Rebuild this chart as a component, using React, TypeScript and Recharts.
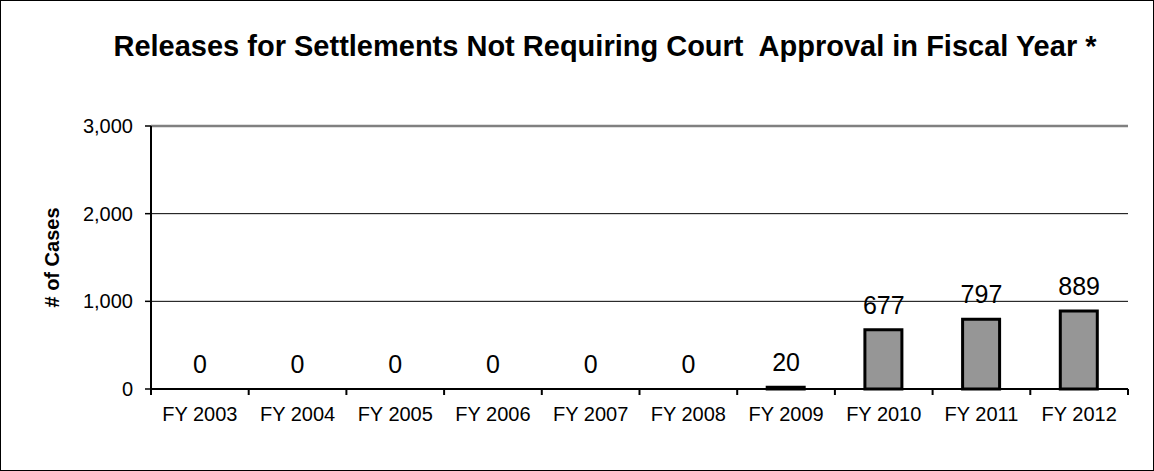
import {
  ComposedChart,
  Bar,
  Line,
  XAxis,
  YAxis,
  CartesianGrid,
  ReferenceLine,
  LabelList,
  Customized,
} from 'recharts';

document.body.style.margin = '0';

/* ------------------------------------------------------------------ */
/*  data                                                               */
/* ------------------------------------------------------------------ */
const fiscalYears = [
  'FY 2003',
  'FY 2004',
  'FY 2005',
  'FY 2006',
  'FY 2007',
  'FY 2008',
  'FY 2009',
  'FY 2010',
  'FY 2011',
  'FY 2012',
];
const releases = [0, 0, 0, 0, 0, 0, 20, 677, 797, 889];
const yTicks = [0, 1000, 2000, 3000];

const TITLE = 'Releases for Settlements Not Requiring Court  Approval in Fiscal Year *';

const data = fiscalYears.map((fy, i) => ({ fy, cases: releases[i] }));

/* ------------------------------------------------------------------ */
/*  layout                                                             */
/* ------------------------------------------------------------------ */
const W = 1154;
const H = 471;
const Y_AXIS_W = 151;
const MARGIN = { top: 126, right: 26, bottom: 52, left: 0 };
const X_AXIS_H = 30;
const PLOT_BOTTOM = H - MARGIN.bottom - X_AXIS_H;
const BAND = (W - Y_AXIS_W - MARGIN.right) / fiscalYears.length;
const TICK_SIZE = 6;
const TICK_GAP = 12;
const FONT = '"Liberation Sans", Arial, sans-serif';

// Excel-style ticks sit on the category boundaries, labels in the middle
function FyTick(props: any) {
  const { x, y, payload, index } = props;
  const half = BAND / 2;
  const last = index === fiscalYears.length - 1;
  return (
    <g>
      <line x1={x - half} x2={x - half} y1={PLOT_BOTTOM} y2={PLOT_BOTTOM + TICK_SIZE} stroke="#000" strokeWidth={2} />
      {last && (
        <line x1={x + half} x2={x + half} y1={PLOT_BOTTOM} y2={PLOT_BOTTOM + TICK_SIZE} stroke="#000" strokeWidth={2} />
      )}
      <text x={x} y={y} dy="0.71em" textAnchor="middle" fontSize={20} fontFamily={FONT} fill="#000">
        {payload.value}
      </text>
    </g>
  );
}

function YLabel(props: any) {
  const vb = props.viewBox || {};
  const cy = (vb.y ?? MARGIN.top) + (vb.height ?? 263) / 2;
  const cx = 52;
  return (
    <text
      x={cx}
      y={cy}
      transform={`rotate(-90 ${cx} ${cy})`}
      textAnchor="middle"
      dominantBaseline="central"
      fontSize={20}
      fontWeight="bold"
      fontFamily={FONT}
      fill="#000"
    >
      # of Cases
    </text>
  );
}

function Title() {
  return (
    <text
      x={605}
      y={56}
      textAnchor="middle"
      fontSize={29}
      fontWeight="bold"
      fontFamily={FONT}
      fill="#000"
      style={{ whiteSpace: 'pre' }}
    >
      {TITLE}
    </text>
  );
}

export default function App() {
  return (
    <div style={{ position: 'relative', width: W, height: H, background: '#fff' }}>
      <ComposedChart width={W} height={H} data={data} margin={MARGIN}>
        <CartesianGrid vertical={false} stroke="#000" strokeWidth={1} />
        <ReferenceLine y={3000} stroke="#808080" strokeWidth={2.5} />
        <XAxis
          dataKey="fy"
          height={X_AXIS_H}
          axisLine={{ stroke: '#000', strokeWidth: 2 }}
          tickLine={false}
          tickSize={TICK_SIZE}
          tickMargin={TICK_GAP}
          interval={0}
          tick={<FyTick />}
        />
        <YAxis
          width={Y_AXIS_W}
          domain={[0, 3000]}
          ticks={yTicks}
          interval={0}
          tickFormatter={(v: number) => v.toLocaleString('en-US')}
          axisLine={{ stroke: '#000', strokeWidth: 2 }}
          tickLine={{ stroke: '#000', strokeWidth: 1.5 }}
          tickSize={TICK_SIZE}
          tickMargin={12}
          tick={{ fontSize: 20, fill: '#000', fontFamily: FONT }}
          label={{ content: <YLabel /> }}
        />
        <YAxis
          yAxisId="edge"
          orientation="right"
          width={0}
          domain={[0, 3000]}
          tick={false}
          tickLine={false}
          axisLine={{ stroke: '#808080', strokeWidth: 2.5 }}
        />
        <Bar
          dataKey="cases"
          fill="#969696"
          stroke="#000"
          strokeWidth={3}
          barSize={37}
          isAnimationActive={false}
        />
        {/* invisible series carrying the value labels, so zeros get a label too */}
        <Line
          dataKey="cases"
          stroke="none"
          dot={false}
          activeDot={false}
          isAnimationActive={false}
        >
          <LabelList dataKey="cases" position="top" offset={16} fontSize={25} fill="#000" fontFamily={FONT} />
        </Line>
        <Customized component={Title} />
      </ComposedChart>
      <div
        style={{
          position: 'absolute',
          left: 0,
          top: 0,
          width: W,
          height: H,
          boxSizing: 'border-box',
          border: '1px solid #000',
          pointerEvents: 'none',
        }}
      />
    </div>
  );
}
